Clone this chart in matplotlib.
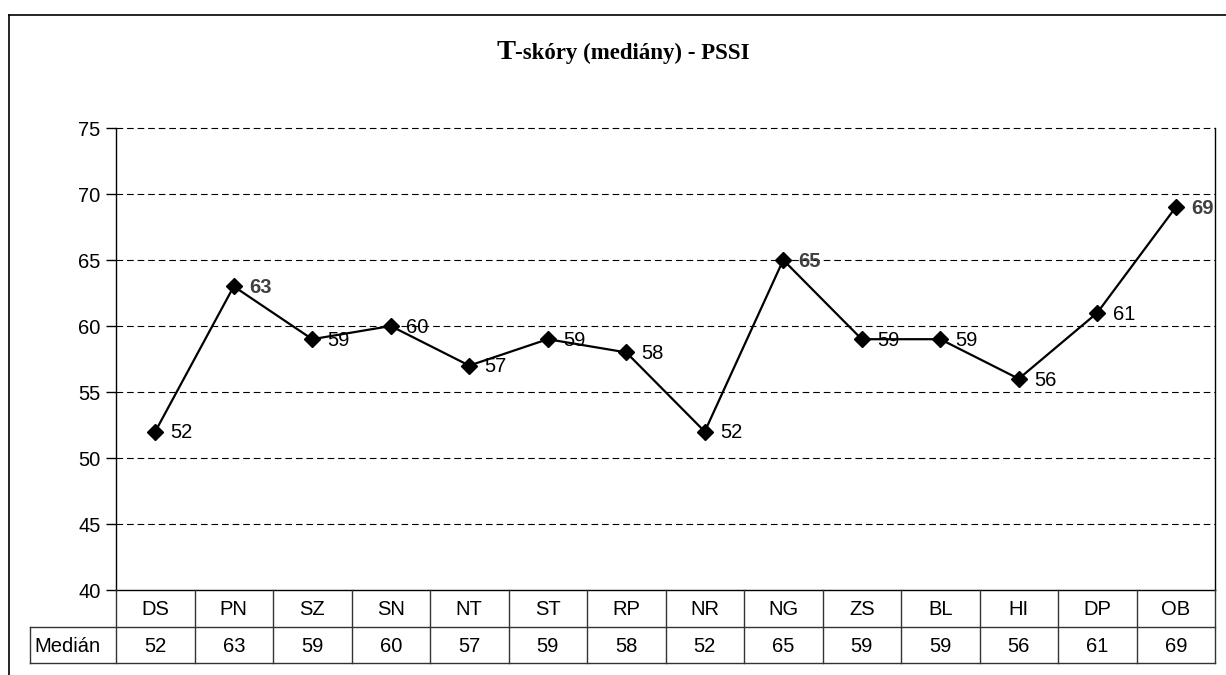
import matplotlib
matplotlib.use("Agg")
import matplotlib.pyplot as plt
from matplotlib.lines import Line2D

categories = ["DS", "PN", "SZ", "SN", "NT", "ST", "RP", "NR", "NG", "ZS", "BL", "HI", "DP", "OB"]
medians = [52, 63, 59, 60, 57, 59, 58, 52, 65, 59, 59, 56, 61, 69]
highlighted = [False, True, False, False, False, False, False, False, True, False, False, False, False, True]
row_label = "Medián"
title_first = "T"
title_rest = "-skóry (mediány) - PSSI"
yticks = [40, 45, 50, 55, 60, 65, 70, 75]

W, H = 1226, 675
fig = plt.figure(figsize=(W / 100, H / 100), dpi=100)
plt.rcParams['font.family'] = ['Liberation Sans', 'DejaVu Sans']
FS = 14.5

def px(x, y):
    return x / W, 1 - y / H

L, R, T, B = 116, 1215, 128, 590
ax = fig.add_axes([L / W, 1 - B / H, (R - L) / W, (B - T) / H])
x = list(range(len(categories)))
ax.set_xlim(-0.5, len(categories) - 0.5)
ax.set_ylim(40, 75)
ax.set_yticks(yticks)
ax.set_yticklabels([str(v) for v in yticks], fontsize=FS)
ax.tick_params(axis='y', length=7, width=1, pad=4, color='black')
ax.set_xticks([])
for yv in yticks[1:]:
    ax.axhline(yv, color='black', lw=0.8, dashes=(6, 3.5), zorder=1, clip_on=False)
ax.spines['top'].set_visible(False)
for s in ['left', 'bottom', 'right']:
    ax.spines[s].set_linewidth(1.0)
    ax.spines[s].set_color('black')

ax.plot(x, medians, color='black', lw=1.6, marker='D', markersize=8.5, zorder=3)
for xi, v, hl in zip(x, medians, highlighted):
    ax.annotate(str(v), (xi, v), xytext=(11, -1), textcoords='offset points',
                ha='left', va='center', fontsize=FS,
                color='#404040' if hl else 'black',
                fontweight='bold' if hl else 'normal', zorder=4)

# data table below the axes
n = len(categories)
colw = (R - L) / n
r1, r2, r3 = 590, 627, 663
lc = '#333333'
lines = []
for i in range(n + 1):
    xx = L + i * colw
    lines.append(((xx, r1), (xx, r3)))
lines.append(((30, r2), (R, r2)))
lines.append(((30, r3), (R, r3)))
lines.append(((30, r2), (30, r3)))
for (x0, y0), (x1, y1) in lines:
    a, b = px(x0, y0)
    c, d = px(x1, y1)
    fig.add_artist(Line2D([a, c], [b, d], color=lc, lw=1.0))
for i, (c, v) in enumerate(zip(categories, medians)):
    cx = L + (i + 0.5) * colw
    fig.text(*px(cx, (r1 + r2) / 2 + 1), c, ha='center', va='center', fontsize=FS)
    fig.text(*px(cx, (r2 + r3) / 2 + 1), str(v), ha='center', va='center', fontsize=FS)
fig.text(*px(34, (r2 + r3) / 2 + 1), row_label, ha='left', va='center', fontsize=FS)

# outer chart border
fig.add_artist(Line2D([9 / W, 1.0], [1 - 15 / H, 1 - 15 / H], color='black', lw=1.2))
fig.add_artist(Line2D([9 / W, 9 / W], [1 - 15 / H, 0.0], color='black', lw=1.2))

# title with a larger first letter
renderer = fig.canvas.get_renderer()
t1 = fig.text(0, 0, title_first, fontsize=20.5, fontweight='bold', family='Liberation Serif', va='baseline')
t2 = fig.text(0, 0, title_rest, fontsize=16.5, fontweight='bold', family='Liberation Serif', va='baseline')
w1 = t1.get_window_extent(renderer).width
w2 = t2.get_window_extent(renderer).width
x0 = 623 - (w1 + w2) / 2
base = 59
t1.set_position(px(x0, base))
t2.set_position(px(x0 + w1, base))

fig.savefig("out.png", dpi=100)
